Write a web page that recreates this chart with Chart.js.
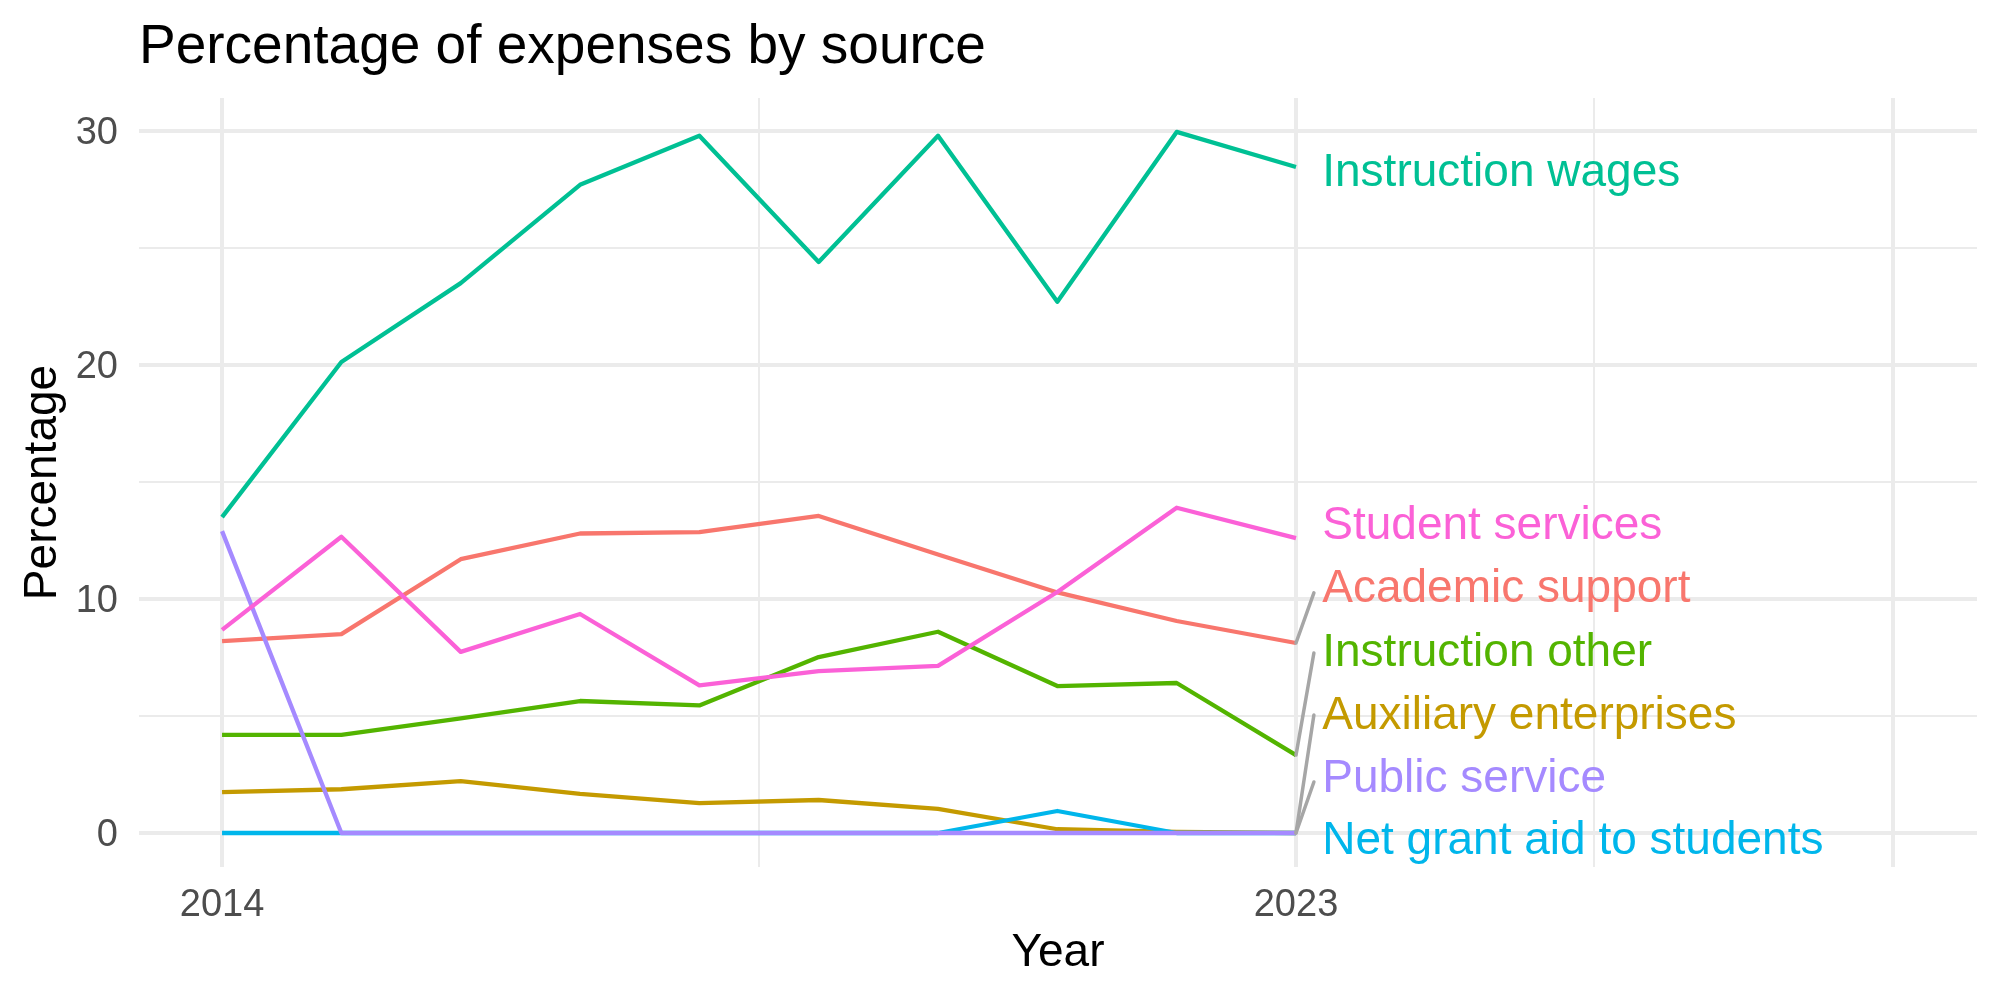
<!DOCTYPE html>
<html>
<head>
<meta charset="utf-8">
<script src="https://cdn.jsdelivr.net/npm/chart.js@4.4.1/dist/chart.umd.min.js"></script>
<style>
  html, body { margin: 0; padding: 0; background: #ffffff; }
  #wrap { width: 2000px; height: 1000px; }
</style>
</head>
<body>
<div id="wrap"><canvas id="c" width="2000" height="1000"></canvas></div>
<script>
// ---- data ----
const years = [2014, 2015, 2016, 2017, 2018, 2019, 2020, 2021, 2022, 2023];
const seriesNames = ["Academic support", "Auxiliary enterprises", "Instruction other",
  "Instruction wages", "Net grant aid to students", "Public service", "Student services"];
const academicSupport   = [8.20, 8.50, 11.70, 12.80, 12.86, 13.55, 11.90, 10.28, 9.06, 8.12];
const auxiliaryEnterprises = [1.75, 1.87, 2.22, 1.67, 1.28, 1.41, 1.03, 0.16, 0.05, 0.00];
const instructionOther  = [4.19, 4.19, 4.90, 5.64, 5.45, 7.52, 8.60, 6.28, 6.41, 3.33];
const instructionWages  = [13.50, 20.13, 23.50, 27.70, 29.80, 24.40, 29.80, 22.70, 29.96, 28.46];
const netGrantAid       = [0, 0, 0, 0, 0, 0, 0, 0.94, 0, 0];
const publicService     = [12.90, 0, 0, 0, 0, 0, 0, 0, 0, 0];
const studentServices   = [8.68, 12.66, 7.74, 9.36, 6.31, 6.92, 7.14, 10.30, 13.90, 12.60];
const yTicks = [0, 5, 10, 15, 20, 25, 30];
const yTickLabels = {0: "0", 10: "10", 20: "20", 30: "30"};
const xTicks = [2014, 2018.5, 2023, 2025.5, 2028];
const xTickLabels = {2014: "2014", 2023: "2023"};

// ---- style / layout ----
const colors = ["#F8766D", "#C49A00", "#53B400", "#00C094", "#00B6EB", "#A58AFF", "#FB61D7"];
const seriesValues = [academicSupport, auxiliaryEnterprises, instructionOther,
  instructionWages, netGrantAid, publicService, studentServices];
// repelled label anchors (data coordinates) and segment ends
const labelX = 2023.22;
const labelY = [10.64, 5.21, 7.91, 28.42, -0.13, 2.52, 13.33];
const segEndX = 2023.15;
const segEndY = [10.26, 5.04, 7.69, null, null, 2.18, null];

const FONT = "'Liberation Sans', Arial, Helvetica, sans-serif";

const datasets = seriesNames.map((name, i) => ({
  label: name,
  data: years.map((yr, j) => ({x: yr, y: seriesValues[i][j]})),
  borderColor: colors[i],
  backgroundColor: colors[i],
  borderWidth: 4.3,
  pointRadius: 0,
  tension: 0,
  fill: false,
  borderJoinStyle: 'round',
  borderCapStyle: 'butt',
  order: seriesNames.length - i
}));

const overlay = {
  id: 'overlay',
  afterDatasetsDraw(chart) {
    const ctx = chart.ctx;
    const xs = chart.scales.x, ys = chart.scales.y;
    ctx.save();
    // segments
    ctx.strokeStyle = '#A6A6A6';
    ctx.lineWidth = 3.5;
    ctx.lineCap = 'round';
    seriesNames.forEach((n, i) => {
      if (segEndY[i] === null) return;
      const last = seriesValues[i][seriesValues[i].length - 1];
      ctx.beginPath();
      ctx.moveTo(xs.getPixelForValue(years[years.length - 1]), ys.getPixelForValue(last));
      ctx.lineTo(xs.getPixelForValue(segEndX), ys.getPixelForValue(segEndY[i]));
      ctx.stroke();
    });
    // labels
    ctx.font = "46px " + FONT;
    ctx.textAlign = 'left';
    ctx.textBaseline = 'middle';
    seriesNames.forEach((n, i) => {
      ctx.fillStyle = colors[i];
      ctx.fillText(n, xs.getPixelForValue(labelX), ys.getPixelForValue(labelY[i]) + 5);
    });
    ctx.restore();
  },
  afterDraw(chart) {
    const ctx = chart.ctx;
    const area = chart.chartArea;
    ctx.save();
    ctx.fillStyle = '#000000';
    ctx.textBaseline = 'alphabetic';
    ctx.font = "55px " + FONT;
    ctx.textAlign = 'left';
    ctx.fillText("Percentage of expenses by source", area.left, 63);
    ctx.font = "46px " + FONT;
    ctx.textAlign = 'center';
    ctx.fillText("Year", (area.left + area.right) / 2, 966);
    ctx.translate(56, (area.top + area.bottom) / 2);
    ctx.rotate(-Math.PI / 2);
    ctx.fillText("Percentage", 0, 0);
    ctx.restore();
  }
};

new Chart(document.getElementById('c'), {
  type: 'line',
  data: { datasets },
  plugins: [overlay],
  options: {
    responsive: false,
    devicePixelRatio: 1,
    animation: false,
    layout: { padding: { top: 98, right: 23, left: 0, bottom: 0 } },
    plugins: { legend: { display: false }, title: { display: false }, tooltip: { enabled: false } },
    scales: {
      x: {
        type: 'linear',
        min: 2013.304,
        max: 2028.707,
        afterBuildTicks: (s) => { s.ticks = xTicks.map(v => ({value: v})); },
        afterFit: (s) => { s.height = 133; },
        ticks: {
          autoSkip: false,
          maxRotation: 0,
          padding: 16,
          color: '#4D4D4D',
          font: { family: FONT, size: 38 },
          callback: (v) => (xTickLabels[v] !== undefined ? xTickLabels[v] : '')
        },
        grid: {
          color: '#EBEBEB',
          drawTicks: false,
          lineWidth: (c) => (c.tick && (c.tick.value === 2018.5 || c.tick.value === 2025.5) ? 2 : 4)
        },
        border: { display: false }
      },
      y: {
        type: 'linear',
        min: -1.453,
        max: 31.41,
        afterBuildTicks: (s) => { s.ticks = yTicks.map(v => ({value: v})); },
        afterFit: (s) => { s.width = 139; },
        ticks: {
          autoSkip: false,
          padding: 21,
          labelOffset: 3,
          color: '#4D4D4D',
          font: { family: FONT, size: 38 },
          callback: (v) => (yTickLabels[v] !== undefined ? yTickLabels[v] : '')
        },
        grid: {
          color: '#EBEBEB',
          drawTicks: false,
          lineWidth: (c) => (c.tick && c.tick.value % 10 !== 0 ? 2 : 4)
        },
        border: { display: false }
      }
    }
  }
});
</script>
</body>
</html>
